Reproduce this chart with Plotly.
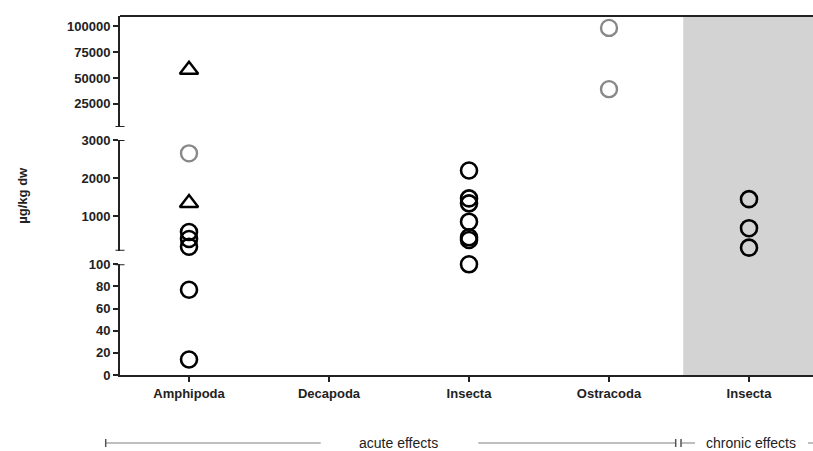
import plotly.graph_objects as go

# ---- data ----
categories = ["Amphipoda", "Decapoda", "Insecta", "Ostracoda", "Insecta"]
cat_index = [0, 1, 2, 3, 4]

amphipoda_circles = [14, 77, 205, 407, 590]
amphipoda_gray = [2650]
amphipoda_triangles = [1350, 58000]
insecta_acute_circles = [100, 380, 451, 860, 1340, 1470, 2200]
ostracoda_gray = [39200, 98500]
insecta_chronic_circles = [180, 690, 1450]

bottom_ticks = [0, 20, 40, 60, 80, 100]
middle_ticks = [1000, 2000, 3000]
top_ticks = [25000, 50000, 75000, 100000]

seg_bottom = [0, 100]
seg_middle = [100, 3000]
seg_top = [2600, 110000]

FONT = "Liberation Sans, Arial, sans-serif"
AX = "#222222"

fig = go.Figure()


def seg_axis(v):
    if v <= seg_bottom[1]:
        return "y"
    if v <= seg_middle[1]:
        return "y2"
    return "y3"


def add_points(xi, values, symbol, color, size, lw):
    groups = {}
    for v in values:
        groups.setdefault(seg_axis(v), []).append(v)
    for ax, vals in groups.items():
        fig.add_trace(go.Scatter(
            x=[xi] * len(vals), y=vals, yaxis=ax, mode="markers",
            marker=dict(symbol=symbol, size=size, color=color,
                        line=dict(color=color, width=lw)),
            cliponaxis=False, showlegend=False, hoverinfo="skip"))


add_points(cat_index[0], amphipoda_circles, "circle-open", "#000000", 16, 2.6)
add_points(cat_index[0], amphipoda_gray, "circle-open", "#888888", 16, 2.4)
add_points(cat_index[0], amphipoda_triangles, "triangle-up-open", "#000000", 16, 2.4)
add_points(cat_index[2], insecta_acute_circles, "circle-open", "#000000", 16, 2.6)
add_points(cat_index[3], ostracoda_gray, "circle-open", "#888888", 16, 2.4)
add_points(cat_index[4], insecta_chronic_circles, "circle-open", "#000000", 16, 2.6)

# body margin is removed by the post script, so figure px == page px
W, H = 813, 451
PLOT_LEFT, PLOT_TOP, PLOT_BOTTOM = 120, 16, 375  # page pixels
L, R, T = PLOT_LEFT, 0, PLOT_TOP
B = H - PLOT_BOTTOM
plot_h = PLOT_BOTTOM - PLOT_TOP
plot_w = W - L - R


def fy(px):  # page pixel y -> paper fraction
    return (PLOT_BOTTOM - px) / plot_h


def fx(px):
    return (px - PLOT_LEFT) / plot_w


tickfont = dict(family=FONT, size=13, color=AX, weight="bold")
common_y = dict(showline=True, linecolor=AX, linewidth=2, ticks="outside",
                ticklen=5, tickwidth=2, tickcolor=AX, showgrid=False,
                zeroline=False, tickfont=tickfont, tickformat="d")

fig.update_layout(
    width=W, height=H,
    margin=dict(l=L, r=R, t=T, b=B),
    paper_bgcolor="white", plot_bgcolor="rgba(0,0,0,0)",
    showlegend=False,
    xaxis=dict(range=[-0.493, 4.457], tickvals=cat_index, ticktext=categories,
               showline=True, linecolor=AX, linewidth=2, ticks="outside",
               ticklen=5, tickwidth=2, tickcolor=AX, showgrid=False,
               zeroline=False, tickfont=tickfont, anchor="y"),
    yaxis=dict(domain=[0, fy(264.3)], range=seg_bottom, tickvals=bottom_ticks,
               anchor="x", **common_y),
    yaxis2=dict(domain=[fy(250.7), fy(140)], range=seg_middle,
                tickvals=middle_ticks, anchor="x", **common_y),
    yaxis3=dict(domain=[fy(127), 1], range=seg_top, tickvals=top_ticks,
                anchor="x", **common_y),
)

shapes = []
# chronic shading
shapes.append(dict(type="rect", xref="x", yref="paper", x0=3.53, x1=4.457,
                   y0=0, y1=1, fillcolor="#d3d3d3", line=dict(width=0),
                   layer="below"))
# top frame line
shapes.append(dict(type="line", xref="paper", yref="paper", x0=0, x1=1,
                   y0=1, y1=1, line=dict(color=AX, width=2)))
# break caps
cap = 4.5 / plot_w
for yref, yv in [("y", 100), ("y2", 100), ("y2", 3000), ("y3", 2600)]:
    shapes.append(dict(type="line", xref="paper", yref=yref, x0=-cap, x1=cap,
                       y0=yv, y1=yv, line=dict(color=AX, width=2)))

# bottom effect brackets
ly = fy(443)
capy = 4 / plot_h
gl = dict(color="#a8a8a8", width=1.5)
dl = dict(color="#555555", width=1.5)
for x0, x1 in [(105.7, 320.7), (478.3, 675.2), (681, 695), (808, 813)]:
    shapes.append(dict(type="line", xref="paper", yref="paper", x0=fx(x0),
                       x1=fx(x1), y0=ly, y1=ly, line=gl))
for xc in [105.7, 675.7, 681]:
    shapes.append(dict(type="line", xref="paper", yref="paper", x0=fx(xc),
                       x1=fx(xc), y0=ly - capy, y1=ly + capy, line=dl))
fig.update_layout(shapes=shapes)

annotations = [
    dict(text="µg/kg dw", xref="paper", yref="paper", x=fx(21.7), y=fy(195),
         textangle=-90, showarrow=False, xanchor="center", yanchor="middle",
         font=dict(family=FONT, size=13, color=AX, weight="bold")),
    dict(text="acute effects", xref="paper", yref="paper", x=fx(398), y=ly,
         showarrow=False, xanchor="center", yanchor="middle",
         font=dict(family=FONT, size=14, color=AX)),
    dict(text="chronic effects", xref="paper", yref="paper", x=fx(751), y=ly,
         showarrow=False, xanchor="center", yanchor="middle",
         font=dict(family=FONT, size=14, color=AX)),
]
fig.update_layout(annotations=annotations)

fig.write_html(
    "out.html",
    config={"displayModeBar": False},
    post_script="document.body.style.margin='0';"
                "document.documentElement.style.overflow='hidden';",
)
